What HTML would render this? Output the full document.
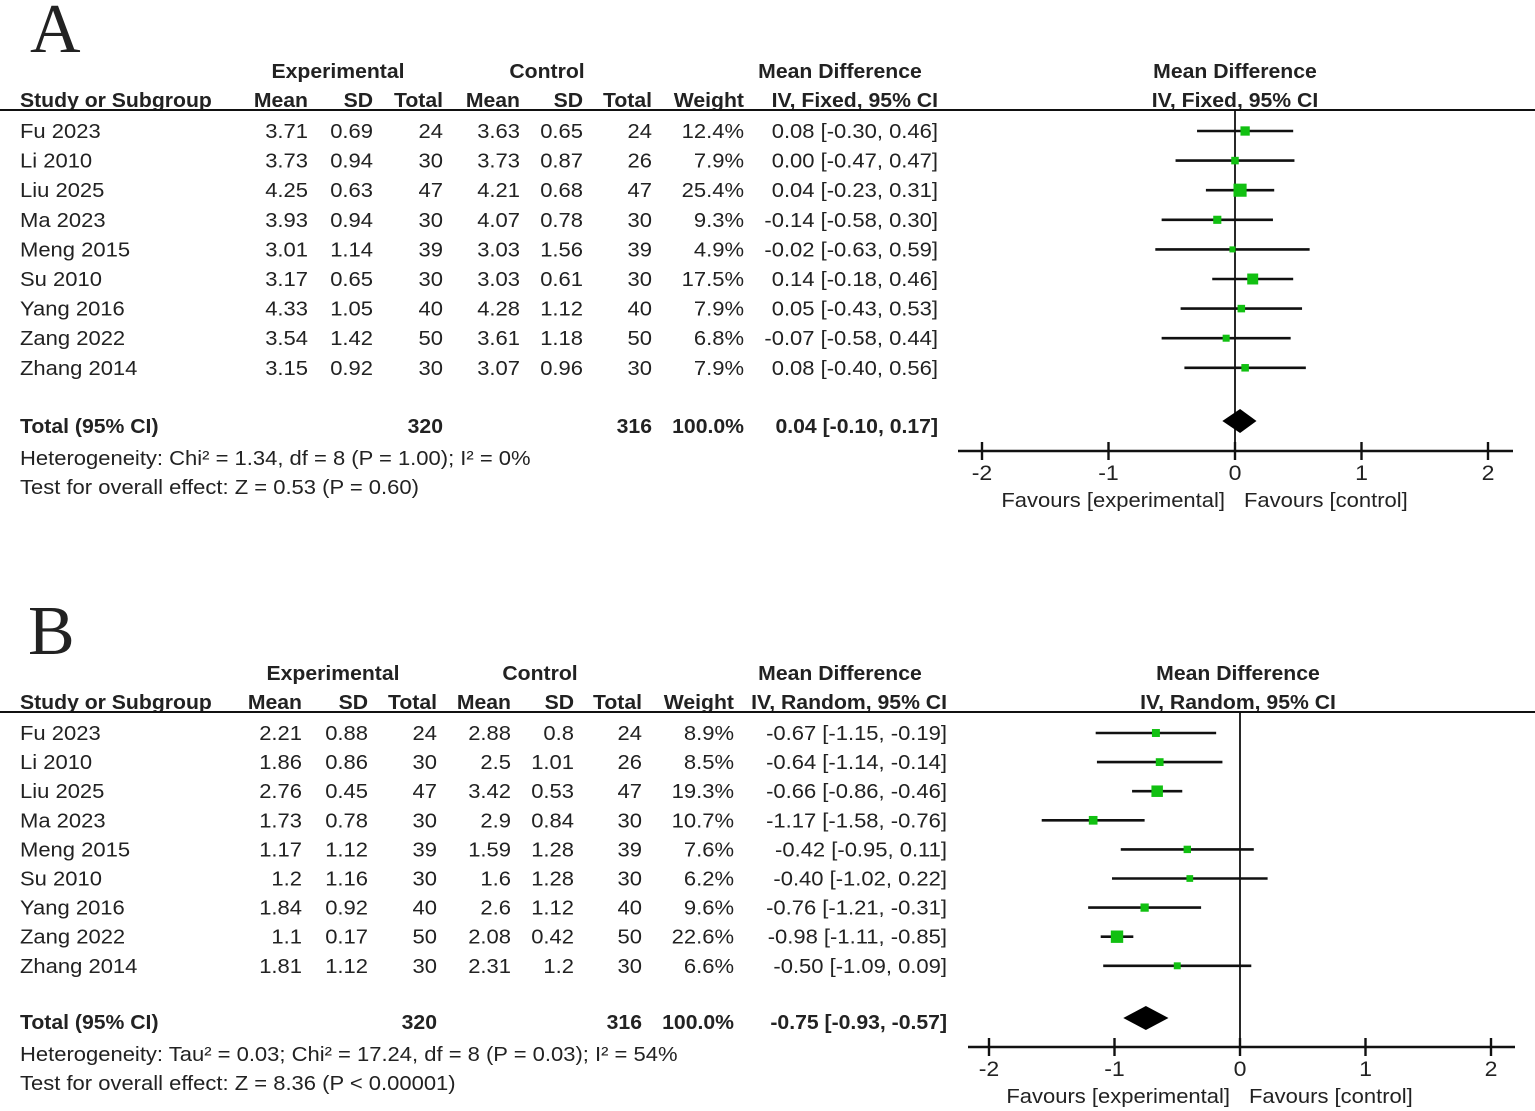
<!DOCTYPE html>
<html><head><meta charset="utf-8">
<style>
html,body{margin:0;padding:0;background:#fff;}
svg{display:block;}
text{font-family:"Liberation Sans",Arial,sans-serif;fill:#222;}
</style></head>
<body>
<svg id="fig" width="1535" height="1111" viewBox="0 0 1535 1111" xmlns="http://www.w3.org/2000/svg"></svg>
<script>
// ---- Data: panel A ----
const studies = ["Fu 2023","Li 2010","Liu 2025","Ma 2023","Meng 2015","Su 2010","Yang 2016","Zang 2022","Zhang 2014"];
const aExpMean = ["3.71","3.73","4.25","3.93","3.01","3.17","4.33","3.54","3.15"];
const aExpSD   = ["0.69","0.94","0.63","0.94","1.14","0.65","1.05","1.42","0.92"];
const aExpN    = [24,30,47,30,39,30,40,50,30];
const aCtlMean = ["3.63","3.73","4.21","4.07","3.03","3.03","4.28","3.61","3.07"];
const aCtlSD   = ["0.65","0.87","0.68","0.78","1.56","0.61","1.12","1.18","0.96"];
const aCtlN    = [24,26,47,30,39,30,40,50,30];
const aWeight  = [12.4,7.9,25.4,9.3,4.9,17.5,7.9,6.8,7.9];
const aMD      = [0.08,0.00,0.04,-0.14,-0.02,0.14,0.05,-0.07,0.08];
const aLo      = [-0.30,-0.47,-0.23,-0.58,-0.63,-0.18,-0.43,-0.58,-0.40];
const aHi      = [0.46,0.47,0.31,0.30,0.59,0.46,0.53,0.44,0.56];
const aTotal   = [0.04,-0.10,0.17];
// ---- Data: panel B ----
const bExpMean = ["2.21","1.86","2.76","1.73","1.17","1.2","1.84","1.1","1.81"];
const bExpSD   = ["0.88","0.86","0.45","0.78","1.12","1.16","0.92","0.17","1.12"];
const bExpN    = [24,30,47,30,39,30,40,50,30];
const bCtlMean = ["2.88","2.5","3.42","2.9","1.59","1.6","2.6","2.08","2.31"];
const bCtlSD   = ["0.8","1.01","0.53","0.84","1.28","1.28","1.12","0.42","1.2"];
const bCtlN    = [24,26,47,30,39,30,40,50,30];
const bWeight  = [8.9,8.5,19.3,10.7,7.6,6.2,9.6,22.6,6.6];
const bMD      = [-0.67,-0.64,-0.66,-1.17,-0.42,-0.40,-0.76,-0.98,-0.50];
const bLo      = [-1.15,-1.14,-0.86,-1.58,-0.95,-1.02,-1.21,-1.11,-1.09];
const bHi      = [-0.19,-0.14,-0.46,-0.76,0.11,0.22,-0.31,-0.85,0.09];
const bTotal   = [-0.75,-0.93,-0.57];
const tickVals = [-2,-1,0,1,2];

const NS="http://www.w3.org/2000/svg";
const svg=document.getElementById('fig');
const SXN=1.1, SXB=1.06;
function el(tag,attrs,parent){const e=document.createElementNS(NS,tag);for(const k in attrs)e.setAttribute(k,attrs[k]);(parent||svg).appendChild(e);return e;}
function txt(g,x,y,s,anchor,bold,sx,size,name){
  if(sx===undefined||sx===null) sx=bold?SXB:SXN;
  const t=el('text',{transform:`translate(${x},${y}) scale(${sx},1)`,'text-anchor':anchor||'start','font-size':size||20,'font-weight':bold?'bold':'normal'},g);
  
  
  t.textContent=s;return t;
}
function fmt(v){return v.toFixed(2);}
function ci(m,l,h){return `${fmt(m)} [${fmt(l)}, ${fmt(h)}]`;}

function panel(o){
  const g=el('g',{});
  
  
  txt(g,o.letterX,o.letterY,o.letter,'start',false,1,70,'panel-letter').style.fontFamily='"Liberation Serif",serif';
  const c=o.cols;
  txt(g,c.expCenter,o.h1,'Experimental','middle',true,null,20,'header-experimental');
  txt(g,c.ctlCenter,o.h1,'Control','middle',true,null,20,'header-control');
  txt(g,c.mdCenter,o.h1,'Mean Difference','middle',true,null,20,'header-mean-difference');
  txt(g,c.plotCenter,o.h1,'Mean Difference','middle',true,null,20,'plot-header-mean-difference');
  txt(g,20,o.h2,'Study or Subgroup','start',true,null,20,'header-study');
  const hdr=['Mean','SD','Total','Mean','SD','Total','Weight'];
  const hx=[c.m1,c.s1,c.n1,c.m2,c.s2,c.n2,c.w];
  hdr.forEach((h,i)=>txt(g,hx[i],o.h2,h,'end',true,null,20,'header-'+h.toLowerCase()));
  txt(g,c.ci,o.h2,o.method,'end',true,null,20,'header-method');
  txt(g,c.plotCenter,o.h2,o.method,'middle',true,null,20,'plot-header-method');
  const hl=el('line',{x1:0,x2:1535,y1:o.lineY,y2:o.lineY,stroke:'#111','stroke-width':2},g);
  
  
  const X=v=>o.zeroX+v*o.unit;
  const zl=el('line',{x1:X(0),x2:X(0),y1:o.lineY,y2:o.axisY,stroke:'#111','stroke-width':1.8},g);
  
  
  const d=o.d;
  studies.forEach((s,i)=>{
    const y=o.row0+i*o.rowH;
    txt(g,20,y+7,s,'start',false,null,20,'study-name');
    txt(g,c.m1,y+7,d.em[i],'end',false,null,20,'exp-mean');
    txt(g,c.s1,y+7,d.es[i],'end',false,null,20,'exp-sd');
    txt(g,c.n1,y+7,String(d.en[i]),'end',false,null,20,'exp-total');
    txt(g,c.m2,y+7,d.cm[i],'end',false,null,20,'ctl-mean');
    txt(g,c.s2,y+7,d.cs[i],'end',false,null,20,'ctl-sd');
    txt(g,c.n2,y+7,String(d.cn[i]),'end',false,null,20,'ctl-total');
    txt(g,c.w,y+7,d.w[i].toFixed(1)+'%','end',false,null,20,'weight');
    txt(g,c.ci,y+7,ci(d.md[i],d.lo[i],d.hi[i]),'end',false,null,20,'effect-ci');
    const l=el('line',{x1:X(d.lo[i]),x2:X(d.hi[i]),y1:y,y2:y,stroke:'#111','stroke-width':2.6},g);
    
    
    const sz=Math.sqrt(d.w[i])*2.5+0.5;
    const r=el('rect',{x:X(d.md[i])-sz/2,y:y-sz/2,width:sz,height:sz,fill:'#11c011'},g);
    
    
  });
  txt(g,20,o.totY+7,'Total (95% CI)','start',true,null,20,'total-label');
  txt(g,c.n1,o.totY+7,'320','end',true,null,20,'total-exp');
  txt(g,c.n2,o.totY+7,'316','end',true,null,20,'total-ctl');
  txt(g,c.w,o.totY+7,'100.0%','end',true,null,20,'total-weight');
  txt(g,c.ci,o.totY+7,ci(d.tot[0],d.tot[1],d.tot[2]),'end',true,null,20,'total-effect');
  const dy=o.diaY;
  const dm=el('polygon',{points:`${X(d.tot[1])},${dy} ${X(d.tot[0])},${dy-12} ${X(d.tot[2])},${dy} ${X(d.tot[0])},${dy+12}`,fill:'#000'},g);
  
  
  txt(g,20,o.hetY,o.het,'start',false,null,20,'heterogeneity-text');
  txt(g,20,o.hetY+29,o.test,'start',false,null,20,'overall-effect-text');
  const ax=el('line',{x1:o.axL,x2:o.axR,y1:o.axisY,y2:o.axisY,stroke:'#111','stroke-width':2.4},g);
  
  
  tickVals.forEach(v=>{
    const t=el('line',{x1:X(v),x2:X(v),y1:o.axisY-9,y2:o.axisY+9,stroke:'#111','stroke-width':2.4},g);
    
    
    txt(g,X(v),o.axisY+29,String(v),'middle',false,1.1,21,'x-tick-label');
  });
  txt(g,X(0)-10,o.axisY+56,'Favours [experimental]','end',false,null,20,'favours-experimental');
  txt(g,X(0)+9,o.axisY+56,'Favours [control]','start',false,null,20,'favours-control');
}

panel({name:'panel-a',letter:'A',letterX:30,letterY:52,h1:78,h2:107,lineY:110,
  cols:{expCenter:338,ctlCenter:547,mdCenter:840,plotCenter:1235,m1:308,s1:373,n1:443,m2:520,s2:583,n2:652,w:744,ci:938},
  zeroX:1235,unit:126.5,row0:131,rowH:29.6,totY:426,diaY:421,hetY:465,axisY:451,axL:958,axR:1513,
  method:'IV, Fixed, 95% CI',
  het:'Heterogeneity: Chi² = 1.34, df = 8 (P = 1.00); I² = 0%',
  test:'Test for overall effect: Z = 0.53 (P = 0.60)',
  d:{em:aExpMean,es:aExpSD,en:aExpN,cm:aCtlMean,cs:aCtlSD,cn:aCtlN,w:aWeight,md:aMD,lo:aLo,hi:aHi,tot:aTotal}});

panel({name:'panel-b',letter:'B',letterX:28,letterY:654,h1:680,h2:709,lineY:712,
  cols:{expCenter:333,ctlCenter:540,mdCenter:840,plotCenter:1238,m1:302,s1:368,n1:437,m2:511,s2:574,n2:642,w:734,ci:947},
  zeroX:1240,unit:125.5,row0:733,rowH:29.1,totY:1022,diaY:1018,hetY:1061,axisY:1047,axL:968,axR:1515,
  method:'IV, Random, 95% CI',
  het:'Heterogeneity: Tau² = 0.03; Chi² = 17.24, df = 8 (P = 0.03); I² = 54%',
  test:'Test for overall effect: Z = 8.36 (P < 0.00001)',
  d:{em:bExpMean,es:bExpSD,en:bExpN,cm:bCtlMean,cs:bCtlSD,cn:bCtlN,w:bWeight,md:bMD,lo:bLo,hi:bHi,tot:bTotal}});
</script>
</body></html>
